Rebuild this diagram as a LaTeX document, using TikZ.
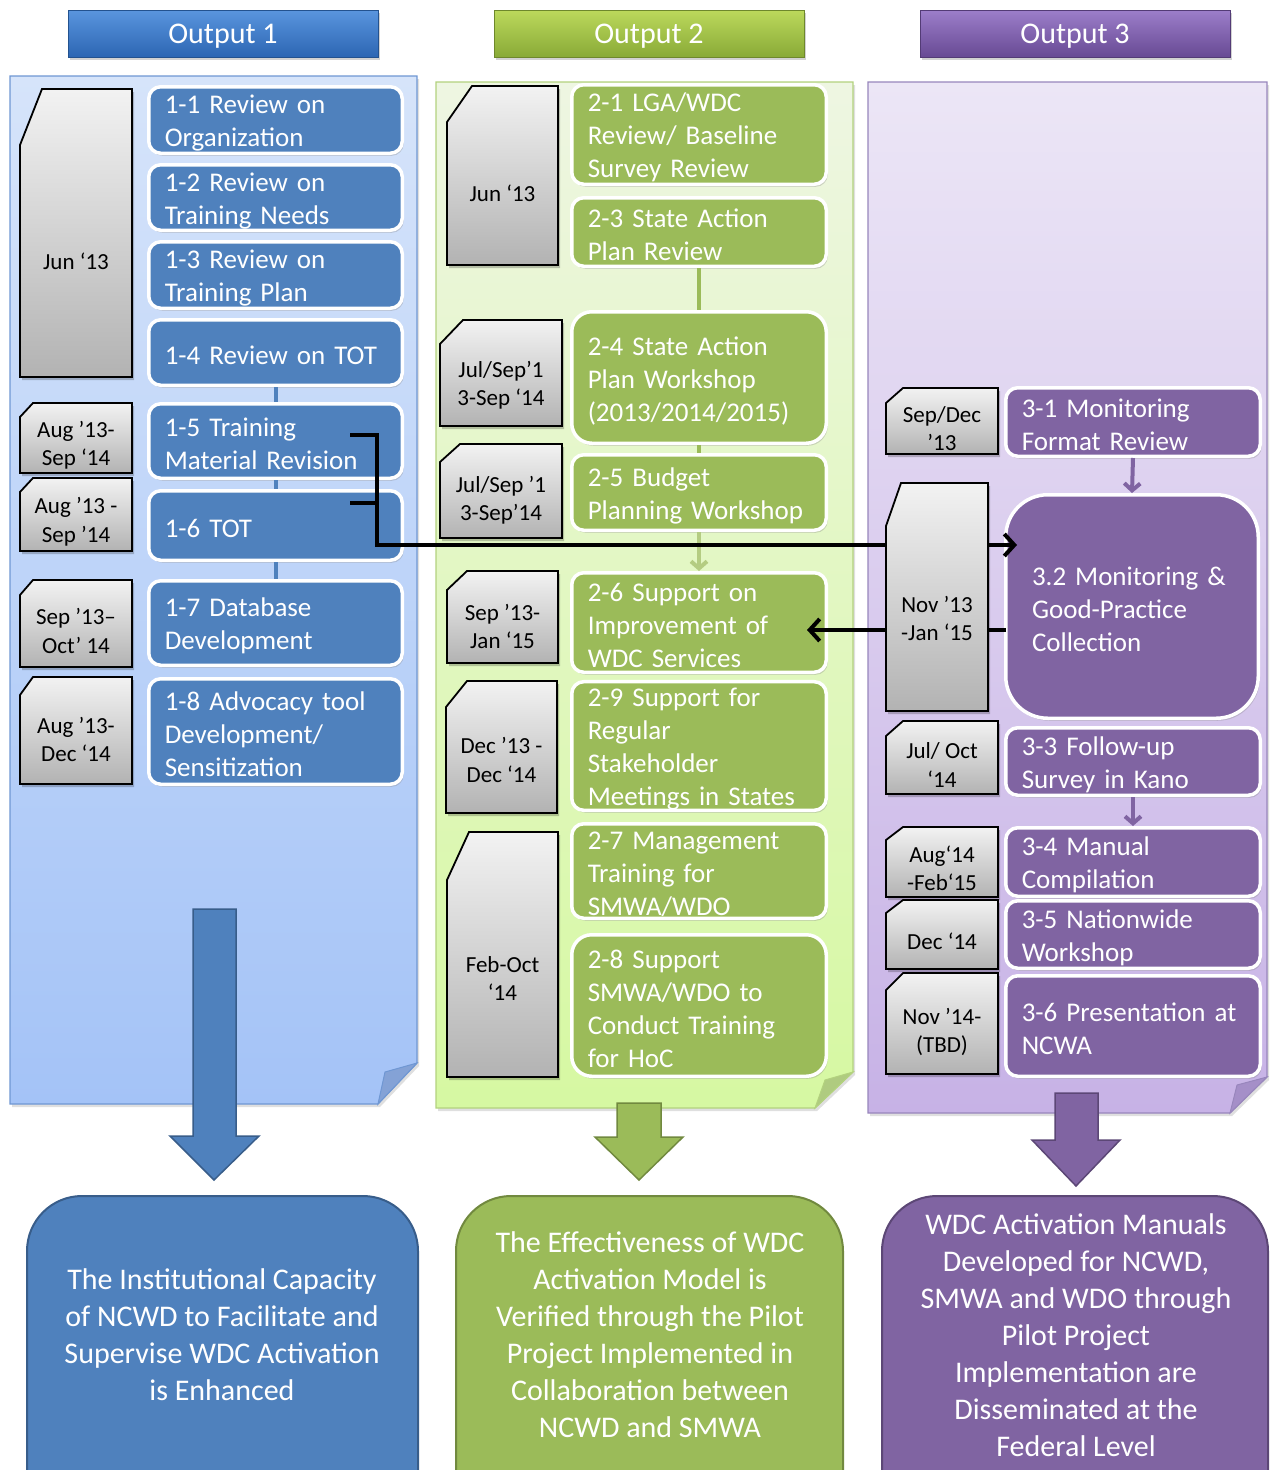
\documentclass[tikz,border=0pt]{standalone}
\usepackage{fontspec}
\setmainfont{Carlito}
\usetikzlibrary{shadows,arrows.meta,calc}
\definecolor{bBox}{HTML}{4F81BD}
\definecolor{bDark}{HTML}{385D8A}
\definecolor{gBox}{HTML}{9BBB59}
\definecolor{gDark}{HTML}{71893F}
\definecolor{pBox}{HTML}{8064A2}
\definecolor{pDark}{HTML}{5C4776}
\definecolor{bPanTop}{HTML}{D6E4FA}
\definecolor{bPanBot}{HTML}{A4C3F7}
\definecolor{bPanLine}{HTML}{6F97D3}
\definecolor{bFold}{HTML}{84A2D6}
\definecolor{gPanTop}{HTML}{EEF6E2}
\definecolor{gPanBot}{HTML}{D6F8A2}
\definecolor{gPanLine}{HTML}{B3D27E}
\definecolor{gFold}{HTML}{AFCB80}
\definecolor{pPanTop}{HTML}{ECE6F6}
\definecolor{pPanBot}{HTML}{C7B2E6}
\definecolor{pPanLine}{HTML}{9886BC}
\definecolor{pFold}{HTML}{A58FC8}
\definecolor{hBlueTop}{HTML}{5A95DE}
\definecolor{hBlueBot}{HTML}{2C66B3}
\definecolor{hGreenTop}{HTML}{BCD95C}
\definecolor{hGreenBot}{HTML}{89AA37}
\definecolor{hPurpTop}{HTML}{9C7ECA}
\definecolor{hPurpBot}{HTML}{684A94}
\tikzset{
  header/.style={minimum width=310pt, minimum height=47pt, text=white, inner sep=0pt,
    text depth=0pt, font=\fontsize{30}{36}\selectfont, line width=1pt,
    drop shadow={opacity=0.35, shadow xshift=2pt, shadow yshift=-3pt}},
  panelshadow/.style={drop shadow={opacity=0.25, shadow xshift=2pt, shadow yshift=-3pt}},
  task/.style={rounded corners=12pt, draw=white, line width=3.5pt, text=white, align=left,
    inner xsep=16pt, inner ysep=0pt, font=\fontsize{27}{33}\selectfont,
    execute at begin node={\rule{0pt}{25pt}},
    drop shadow={opacity=0.3, shadow xshift=1.5pt, shadow yshift=-2.5pt}},
  tb/.style={task, fill=bBox},
  tg/.style={task, fill=gBox},
  tp/.style={task, fill=pBox},
  datefill/.style={top color=black!5, bottom color=black!30, draw=black, line width=1.8pt},
  datetext/.style={align=center, inner sep=0pt, text=black, font=\fontsize{23}{28.5}\selectfont},
  blk/.style={draw=black, line width=4pt},
  blktip/.style={-{Straight Barb[length=10pt,width=22pt]}},
  linkb/.style={draw=bBox, line width=4pt},
  linkg/.style={draw=gBox, line width=4pt},
  linkp/.style={draw=pBox, line width=4pt},
  chev/.style={-{Straight Barb[length=7pt,width=16pt]}},
  outtext/.style={align=center, text=white, inner sep=0pt, font=\fontsize{30}{37}\selectfont},
}
\newcommand\datebox[8]{%
  \fill[black,opacity=0.22] (#2+2+#6,#3+3) -- (#4+2,#3+3) -- (#4+2,#5+3) -- (#2+2,#5+3) -- (#2+2,#3+3+#7) -- cycle;
  \shadedraw[datefill] (#2+#6,#3) -- (#4,#3) -- (#4,#5) -- (#2,#5) -- (#2,#3+#7) -- cycle;
  \node[datetext] (#1) at ({(#2+#4)/2},{(#3+#7+#5)/2}) {#8};}
\newcommand\taskbox[8]{%
  \pgfmathsetmacro\tbw{#5-#3-3.5}%
  \pgfmathsetmacro\tbh{#6-#4-3.5}%
  \pgfmathsetmacro\tbt{\tbw-32}%
  \node[#2, minimum width=\tbw pt, minimum height=\tbh pt, text width=\tbt pt, #7] (#1)
    at ({(#3+#5)/2},{(#4+#6)/2}) {#8};}
\begin{document}
\begin{tikzpicture}[x=1pt,y=-1pt]
\useasboundingbox (0,0) rectangle (1270,1470);
\begin{scope}
\clip (0,0) rectangle (1270,1470);
\fill[white] (0,0) rectangle (1270,1470);

% headers
\node[header, top color=hBlueTop, bottom color=hBlueBot, draw=hBlueBot!80!black] (h1) at (223,33.5) {Output 1};
\node[header, top color=hGreenTop, bottom color=hGreenBot, draw=hGreenBot!80!black] (h2) at (649,33.5) {Output 2};
\node[header, top color=hPurpTop, bottom color=hPurpBot, draw=hPurpBot!80!black] (h3) at (1075,33.5) {Output 3};

% panels
\shadedraw[panelshadow, top color=bPanTop, bottom color=bPanBot, draw=bPanLine, line width=1.2pt]
  (10,76) -- (417,76) -- (417,1063) -- (378,1104) -- (10,1104) -- cycle;
\filldraw[fill=bFold, draw=bPanLine, line width=1pt] (417,1063) -- (385,1072) -- (378,1104) -- cycle;
\shadedraw[panelshadow, top color=gPanTop, bottom color=gPanBot, draw=gPanLine, line width=1.2pt]
  (436,82) -- (853,82) -- (853,1072) -- (815,1108) -- (436,1108) -- cycle;
\filldraw[fill=gFold, draw=gPanLine, line width=1pt] (853,1072) -- (825,1080) -- (815,1108) -- cycle;
\shadedraw[panelshadow, top color=pPanTop, bottom color=pPanBot, draw=pPanLine, line width=1.2pt]
  (868,82) -- (1267,82) -- (1267,1077) -- (1230,1113) -- (868,1113) -- cycle;
\filldraw[fill=pFold, draw=pPanLine, line width=1pt] (1267,1077) -- (1237,1085) -- (1230,1113) -- cycle;

% task boxes, column 1
\taskbox{t11}{tb}{147}{85}{404}{155}{}{1-1 Review on\\Organization}
\taskbox{t12}{tb}{147}{163}{404}{232}{}{1-2 Review on\\Training Needs}
\taskbox{t13}{tb}{147}{240}{404}{310}{}{1-3 Review on\\Training Plan}
\taskbox{t14}{tb}{147}{318}{404}{387}{}{1-4 Review on TOT}
\taskbox{t15}{tb}{147}{402}{404}{480}{}{1-5 Training\\Material Revision}
\taskbox{t16}{tb}{147}{489}{404}{562}{}{1-6 TOT}
\taskbox{t17}{tb}{147}{579}{404}{667}{}{1-7 Database\\Development}
\taskbox{t18}{tb}{147}{677}{404}{786}{}{1-8 Advocacy tool\\Development/\\Sensitization}

% task boxes, column 2
\taskbox{t21}{tg}{570}{83}{828}{186}{}{2-1 LGA/WDC\\Review/ Baseline\\Survey Review}
\taskbox{t23}{tg}{570}{196}{828}{268}{}{2-3 State Action\\Plan Review}
\taskbox{t24}{tg}{570}{310}{828}{445}{rounded corners=20pt}{2-4 State Action\\Plan Workshop\\(2013/2014/2015)}
\taskbox{t25}{tg}{570}{453}{828}{532}{}{2-5 Budget\\Planning Workshop}
\taskbox{t26}{tg}{570}{571}{828}{674}{}{2-6 Support on\\Improvement of\\WDC Services}
\taskbox{t29}{tg}{570}{680}{828}{812}{}{2-9 Support for\\Regular\\Stakeholder\\Meetings in States}
\taskbox{t27}{tg}{570}{822}{828}{920}{}{2-7 Management\\Training for\\SMWA/WDO}
\taskbox{t28}{tg}{570}{933}{828}{1078}{rounded corners=20pt}{2-8 Support\\SMWA/WDO to\\Conduct Training\\for HoC}

% task boxes, column 3
\taskbox{t31}{tp}{1004}{386}{1262}{458}{}{3-1 Monitoring\\Format Review}
\taskbox{t32}{tp}{1004}{493}{1260}{720}{rounded corners=42pt, inner xsep=26pt, text width=200pt}{3.2 Monitoring \&\\Good-Practice\\Collection}
\taskbox{t33}{tp}{1004}{726}{1262}{797}{}{3-3 Follow-up\\Survey in Kano}
\taskbox{t34}{tp}{1004}{826}{1262}{898}{}{3-4 Manual\\Compilation}
\taskbox{t35}{tp}{1004}{899}{1262}{970}{}{3-5 Nationwide\\Workshop}
\taskbox{t36}{tp}{1004}{974}{1262}{1078}{}{3-6 Presentation at\\NCWA}

% links inside columns
\draw[linkb] (t14.south) -- (t15.north);
\draw[linkb] (t15.south) -- (t16.north);
\draw[linkb] (t16.south) -- (t17.north);
\draw[linkg] (t23.south) -- (t24.north);
\draw[linkg] (t24.south) -- (t25.north);
\draw[linkg, draw=gBox!75, chev] (t25.south) -- (t26.north);
\draw[linkp, chev] (t31.south) -- (t32.north);
\draw[linkp, chev] (t33.south) -- (t34.north);

% date boxes, columns 1 and 2
\datebox{d11}{20}{89}{132}{377}{22}{56}{Jun ‘13}
\datebox{d15}{20}{403}{132}{473}{13}{14}{Aug ’13-\\Sep ‘14}
\datebox{d16}{20}{478}{132}{551}{13}{14}{Aug ’13 -\\Sep ’14}
\datebox{d17}{20}{580}{132}{667}{13}{15}{Sep ’13–\\Oct’ 14}
\datebox{d18}{20}{677}{132}{784}{13}{18}{Aug ’13-\\Dec ‘14}
\datebox{d21}{447}{86}{558}{265}{25}{36}{Jun ‘13}
\datebox{d24}{440}{320}{562}{426}{23}{24}{Jul/Sep’1\\3-Sep ‘14}
\datebox{d25}{440}{444}{562}{538}{20}{18}{Jul/Sep ’1\\3-Sep’14}
\datebox{d26}{447}{571}{558}{663}{20}{19}{Sep ’13-\\Jan ‘15}
\datebox{d29}{446}{681}{557}{813}{21}{26}{Dec ’13 -\\Dec ‘14}
\datebox{d27}{447}{832}{558}{1077}{22}{48}{Feb-Oct\\‘14}

% black connectors
\coordinate (s15) at (350,435);
\coordinate (s16) at (350,503);
\coordinate (j1) at (377,545);
\coordinate (e32) at (1017,545);
\coordinate (s32) at (1006,630);
\coordinate (e26) at (807,630);
\draw[blk] (s16) -- (s16 -| j1);
\draw[blk, blktip] (s15) -| (j1) -- (e32);
\draw[blk, blktip] (s32) -- (e26);

% date boxes, column 3
\datebox{d31}{886}{388}{998}{454}{17}{15}{Sep/Dec\\’13}
\datebox{d32}{886}{483}{988}{711}{15}{43}{Nov ’13\\-Jan ‘15}
\datebox{d33}{886}{721}{998}{794}{17}{15}{Jul/ Oct\\‘14}
\datebox{d34}{886}{827}{998}{897}{17}{13}{Aug‘14\\-Feb‘15}
\datebox{d35}{886}{900}{998}{969}{17}{13}{Dec ‘14}
\datebox{d36}{886}{973}{998}{1074}{17}{17}{Nov ’14-\\(TBD)}

% block arrows
\filldraw[fill=bBox, draw=bDark, line width=1.5pt]
  (193,909) -- (236,909) -- (236,1136) -- (259,1136) -- (214,1180) -- (170,1136) -- (193,1136) -- cycle;
\filldraw[fill=gBox, draw=gDark, line width=1.5pt]
  (617,1103) -- (661,1103) -- (661,1137) -- (683,1137) -- (639,1180) -- (595,1137) -- (617,1137) -- cycle;
\filldraw[fill=pBox, draw=pDark, line width=1.5pt]
  (1055,1093) -- (1098,1093) -- (1098,1140) -- (1120,1140) -- (1076,1186) -- (1032,1140) -- (1055,1140) -- cycle;

% outcome boxes
\filldraw[fill=bBox, draw=bDark, line width=2pt, rounded corners=55pt] (27,1196) rectangle (418,1540);
\filldraw[fill=gBox, draw=gDark, line width=2pt, rounded corners=55pt] (456,1196) rectangle (843,1540);
\filldraw[fill=pBox, draw=pDark, line width=2pt, rounded corners=55pt] (882,1196) rectangle (1268,1540);
\node[outtext] (o1) at (222,1335) {The Institutional Capacity\\of NCWD to Facilitate and\\Supervise WDC Activation\\is Enhanced};
\node[outtext] (o2) at (650,1335) {The Effectiveness of WDC\\Activation Model is\\Verified through the Pilot\\Project Implemented in\\Collaboration between\\NCWD and SMWA};
\node[outtext] (o3) at (1076,1335) {WDC Activation Manuals\\Developed for NCWD,\\SMWA and WDO through\\Pilot Project\\Implementation are\\Disseminated at the\\Federal Level};
\end{scope}
\end{tikzpicture}
\end{document}
